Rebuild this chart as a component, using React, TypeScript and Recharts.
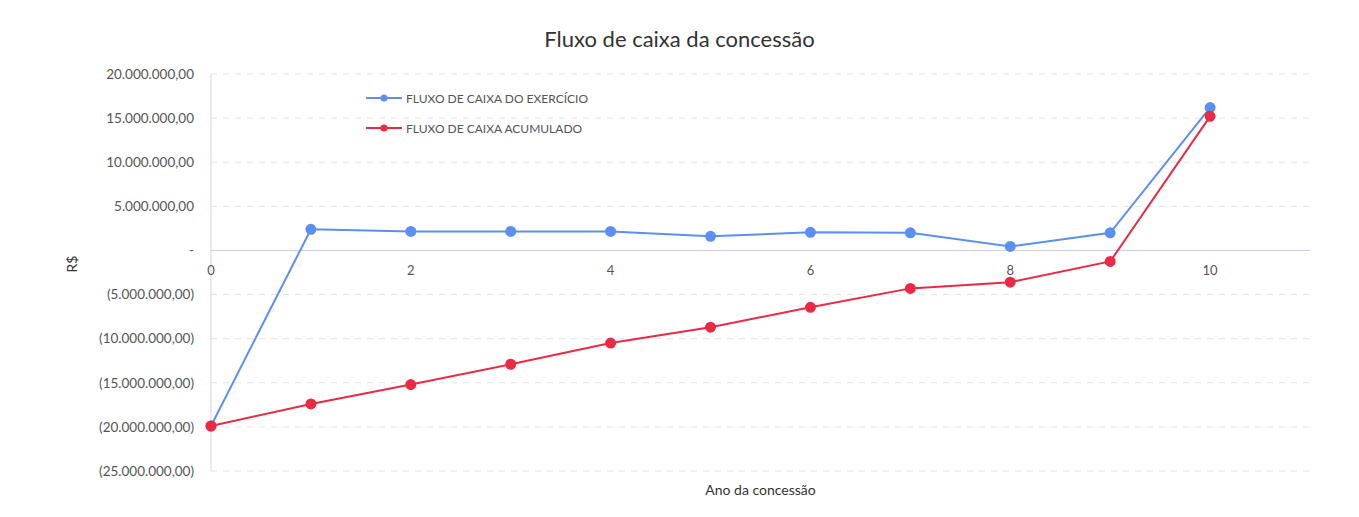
import React from 'react'
import {
  LineChart,
  Line,
  XAxis,
  YAxis,
  CartesianGrid,
  ReferenceLine,
} from 'recharts'

const anos = [0, 1, 2, 3, 4, 5, 6, 7, 8, 9, 10]
const fluxoExercicio = [-19.9, 2.4, 2.15, 2.15, 2.15, 1.6, 2.05, 2.0, 0.45, 2.0, 16.2].map(v => v * 1e6)
const fluxoAcumulado = [-19.9, -17.4, -15.2, -12.9, -10.5, -8.7, -6.45, -4.3, -3.6, -1.25, 15.2].map(v => v * 1e6)
const yTicks = [20, 15, 10, 5, 0, -5, -10, -15, -20, -25].map(v => v * 1e6)
const xTicks = [0, 2, 4, 6, 8, 10]

const data = anos.map((ano, i) => ({
  ano,
  exercicio: fluxoExercicio[i],
  acumulado: fluxoAcumulado[i],
}))

const W = 1359
const H = 517
const TOP = 74
const BOTTOM = 45
const X_AXIS_H = 1
const PLOT_H = H - TOP - BOTTOM - X_AXIS_H
const Y_MAX = 20e6
const Y_MIN = -25e6
const ZERO_Y = TOP + (PLOT_H * Y_MAX) / (Y_MAX - Y_MIN)

const BLUE = '#5b8ff0'
const RED = '#ea2a44'
const FONT = 'Lato, "Open Sans", sans-serif'

const series = [
  { name: 'FLUXO DE CAIXA DO EXERCÍCIO', color: BLUE },
  { name: 'FLUXO DE CAIXA ACUMULADO', color: RED },
]

const formatBRL = (v: number) => {
  if (v === 0) return '-'
  const s = Math.abs(v)
    .toFixed(0)
    .replace(/\B(?=(\d{3})+(?!\d))/g, '.') + ',00'
  return v < 0 ? `(${s})` : s
}

const XTick = ({ x, payload }: any) => (
  <text x={x} y={ZERO_Y + 25} textAnchor="middle" fontSize={13} fill="#555" fontFamily={FONT}>
    {payload.value}
  </text>
)

export default function App() {
  return (
    <div style={{ position: 'absolute', left: 0, top: 0, width: W, height: H, background: '#fff' }}>
      <LineChart width={W} height={H} data={data} margin={{ top: TOP, right: 49, bottom: BOTTOM, left: 61 }}>
        <CartesianGrid vertical={false} stroke="#e4e4e4" strokeDasharray="6 6" />
        <XAxis
          dataKey="ano"
          type="number"
          domain={[0, 11]}
          ticks={xTicks}
          axisLine={false}
          tickLine={false}
          tick={<XTick />}
          height={X_AXIS_H}
          label={{
            value: 'Ano da concessão',
            position: 'insideBottom',
            dy: 28,
            fontSize: 14,
            fill: '#333',
            fontFamily: FONT,
          }}
        />
        <YAxis
          type="number"
          domain={[Y_MIN, Y_MAX]}
          ticks={yTicks}
          width={150}
          tickFormatter={formatBRL}
          axisLine={{ stroke: '#d0d4e8' }}
          tickLine={false}
          tickMargin={11}
          tick={{ fontSize: 13.5, fill: '#555', fontFamily: FONT }}
          label={{
            value: 'R$',
            angle: -90,
            position: 'insideLeft',
            dx: 6,
            fontSize: 14,
            fill: '#333',
            fontFamily: FONT,
          }}
        />
        <ReferenceLine y={0} stroke="#c8cde6" strokeWidth={1} />
        <Line
          dataKey="exercicio"
          stroke={BLUE}
          strokeWidth={2}
          dot={{ r: 4.5, fill: BLUE, stroke: BLUE }}
          isAnimationActive={false}
        />
        <Line
          dataKey="acumulado"
          stroke={RED}
          strokeWidth={2}
          dot={{ r: 4.5, fill: RED, stroke: RED }}
          isAnimationActive={false}
        />
      </LineChart>
      <div
        style={{
          position: 'absolute',
          top: 25,
          left: 0,
          width: W,
          textAlign: 'center',
          fontFamily: FONT,
          fontSize: 22,
          color: '#333',
        }}
      >
        Fluxo de caixa da concessão
      </div>
      <div style={{ position: 'absolute', left: 366, top: 83, fontFamily: FONT, fontSize: 12, color: '#555' }}>
        {series.map(item => (
          <div key={item.name} style={{ display: 'flex', alignItems: 'center', height: 30 }}>
            <svg width={36} height={10} style={{ marginRight: 4 }}>
              <line x1={0} y1={5} x2={36} y2={5} stroke={item.color} strokeWidth={2} />
              <circle cx={18} cy={5} r={3.5} fill={item.color} />
            </svg>
            {item.name}
          </div>
        ))}
      </div>
    </div>
  )
}
